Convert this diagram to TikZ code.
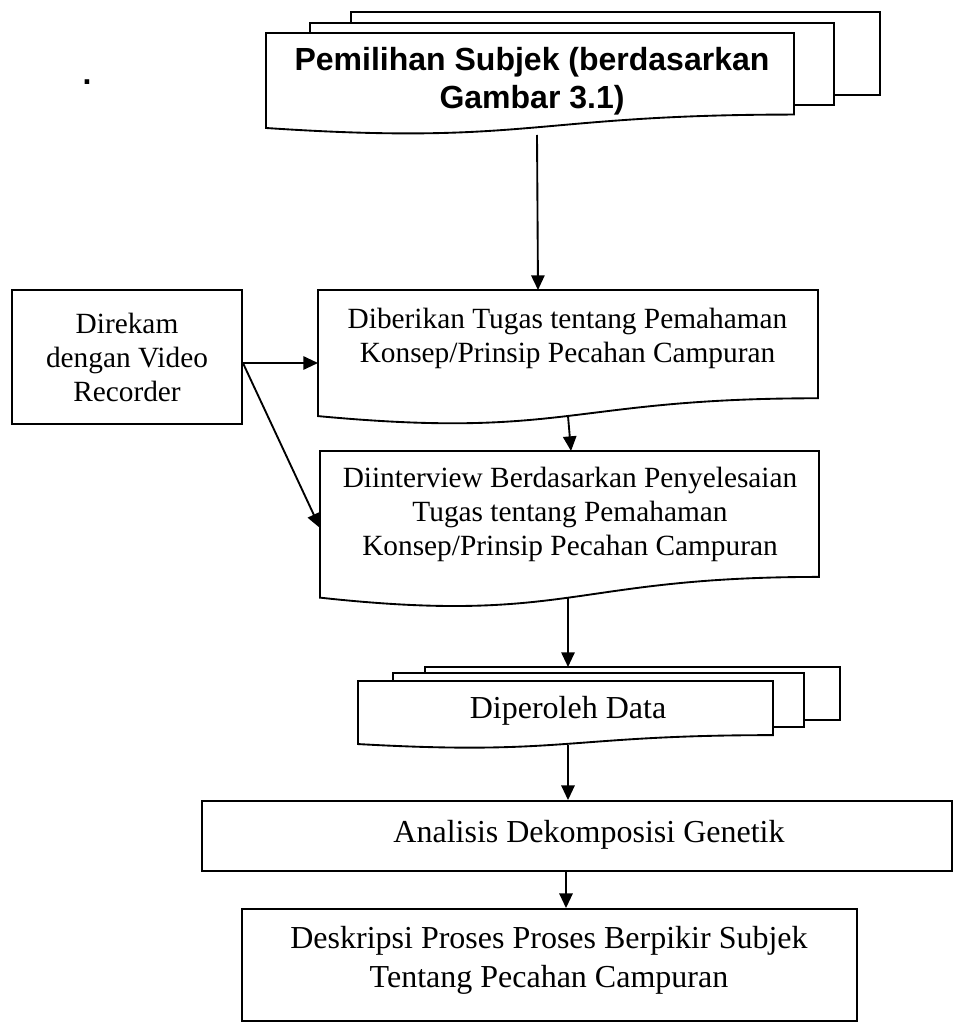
\documentclass[tikz,border=0pt]{standalone}
\usepackage{fontspec}
\setmainfont{Liberation Serif}
\newfontfamily\sansb{Liberation Sans}
\usetikzlibrary{arrows.meta}
\newcommand\docshape[4]{\draw[shp] (#1,#2) -- (#3,#2) -- (#3,{#2+0.802*#4}) .. controls ({(#1+#3)/2},{#2+0.802*#4}) and ({(#1+#3)/2},{#2+1.1075*#4}) .. (#1,{#2+0.934*#4}) -- cycle;}
\begin{document}
\begin{tikzpicture}[x=0.75pt,y=-0.75pt,
  shp/.style={draw=black,fill=white,line width=1.4pt,line join=miter},
  box/.style={draw=black,fill=white,line width=1.4pt,inner sep=0pt},
  arr/.style={-{Triangle[length=11pt,width=10pt]},line width=1.4pt},
  tsmall/.style={align=center,inner sep=0pt,font=\fontsize{22}{25.5}\selectfont},
  tbig/.style={align=center,inner sep=0pt,font=\fontsize{24}{29.25}\selectfont},
  thead/.style={align=center,inner sep=0pt,font=\sansb\bfseries\fontsize{24}{28.5}\selectfont}]
\useasboundingbox (0,0) rectangle (962,1023);

% stray dot
\node[inner sep=0pt,font=\sansb\bfseries\fontsize{24}{28}\selectfont] (dot) at (87,82) {.};

% top multidocument
\draw[shp] (351,12) rectangle (880,95);
\draw[shp] (310,23) rectangle (834,105);
\docshape{266}{33}{794}{101.7}
\node[thead] (sel) at (532,81) {Pemilihan Subjek (berdasarkan\\Gambar 3.1)};

% Diberikan document
\docshape{318}{290}{818}{135}
\node[tsmall] (dib) at (567.5,338) {Diberikan Tugas tentang Pemahaman\\Konsep/Prinsip Pecahan Campuran};

% Diinterview document
\docshape{320}{451}{819}{157}
\node[tsmall] (int) at (570,514) {Diinterview Berdasarkan Penyelesaian\\Tugas tentang Pemahaman\\Konsep/Prinsip Pecahan Campuran};

% Direkam box
\node[box,minimum width=172.5pt,minimum height=100.5pt,tsmall] (rek) at (127,357) {Direkam\\dengan Video\\Recorder};

% Diperoleh multidocument
\draw[shp] (425,667) rectangle (840,720);
\draw[shp] (393,673) rectangle (804,727);
\docshape{358}{681}{773}{67.5}
\node[tbig] (dat) at (568,710.5) {Diperoleh Data};

% Analisis box
\node[box,minimum width=562.5pt,minimum height=52.5pt] (ana) at (577,836) {};
\node[tbig] (anat) at (589,834.6) {Analisis Dekomposisi Genetik};

% Deskripsi box
\node[box,minimum width=461.25pt,minimum height=84pt] (des) at (549.5,965) {};
\node[tbig] (dest) at (549,960) {Deskripsi Proses Proses Berpikir Subjek\\Tentang Pecahan Campuran};

% connector end points on the document outlines
\coordinate (selB) at (537,135);
\coordinate (dibT) at (538,290);
\coordinate (dibL) at (318,363);
\coordinate (dibB) at (568,416);
\coordinate (intT) at (571,451);
\coordinate (intL) at (320,528);
\coordinate (intB) at (568,598);
\coordinate (datT) at (568,667);
\coordinate (datB) at (568,745);

\draw[arr] (selB) -- (dibT);
\draw[arr] ([yshift=-4.5pt]rek.east) -- (dibL);
\draw[arr] ([yshift=-4.5pt]rek.east) -- (intL);
\draw[arr] (dibB) -- (intT);
\draw[arr] (intB) -- (datT);
\draw[arr] (datB) -- (datB |- ana.north);
\draw[arr] (ana.south -| 566,0) -- (des.north -| 566,0);
\end{tikzpicture}
\end{document}
